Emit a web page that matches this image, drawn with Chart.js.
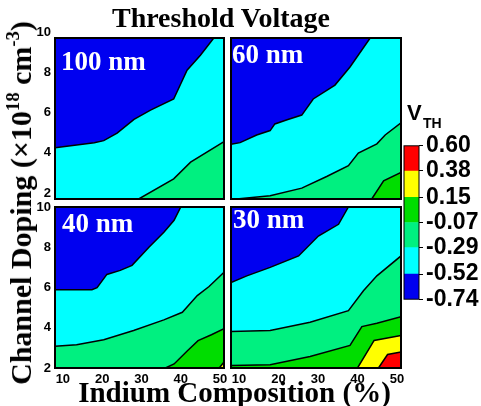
<!DOCTYPE html>
<html>
<head>
<meta charset="utf-8">
<script src="https://cdn.jsdelivr.net/npm/chart.js@4.4.1/dist/chart.umd.min.js"></script>
<style>
  body { margin: 0; width: 481px; height: 406px; background: #fff; overflow: hidden; position: relative; }
  canvas { position: absolute; }
  .t { position: absolute; white-space: nowrap; font-family: 'Liberation Serif', 'Times New Roman', serif; font-weight: bold; color: #000; }
  .lbl { font-size: 27px; line-height: 30px; color: #fff; }
  .s { position: absolute; white-space: nowrap; font-family: 'Liberation Sans', Arial, sans-serif; font-weight: bold; color: #000; }
  sup { font-size: 0.62em; line-height: 0; vertical-align: 0.65em; }
</style>
</head>
<body>
<canvas id="p100" width="211" height="185" style="left:25px;top:26px"></canvas>
<canvas id="p60" width="194" height="185" style="left:219px;top:26px"></canvas>
<canvas id="p40" width="211" height="195" style="left:25px;top:195px"></canvas>
<canvas id="p30" width="194" height="195" style="left:219px;top:195px"></canvas>
<canvas id="cbar" width="89" height="187" style="left:392px;top:129px"></canvas>

<div class="t" style="left:0;top:3px;width:442px;text-align:center;font-size:28px;line-height:30px">Threshold Voltage</div>
<div class="t" style="left:21px;top:203px;font-size:30px;line-height:32px;transform:translate(-50%,-50%) rotate(-90deg)">Channel Doping (×10<sup>18</sup> cm<sup>-3</sup>)</div>
<div class="t" style="left:0;top:376px;width:469px;text-align:center;font-size:29px;line-height:32px">Indium Composition (%)</div>

<div class="t lbl" style="left:61px;top:46px">100 nm</div>
<div class="t lbl" style="left:232px;top:39px">60 nm</div>
<div class="t lbl" style="left:62px;top:208px">40 nm</div>
<div class="t lbl" style="left:233px;top:204px">30 nm</div>

<div class="s" style="left:407px;top:100px;font-size:22px">V</div>
<div class="s" style="left:423px;top:115px;font-size:14px">TH</div>

<script>
// ejes
const xMin = 8, xMax = 51;
const xTicks = [10, 20, 30, 40, 50];
const yTicks = [2, 4, 6, 8, 10];

// niveles de la barra de color (V)
const levels = [-0.74, -0.52, -0.29, -0.07, 0.15, 0.38, 0.60];

// curvas de nivel [In %, dopaje], de arriba hacia abajo
const c100_a = [[8, 4.55], [18, 4.8], [20.4, 4.9], [23.8, 5.27], [28.1, 5.96], [32.3, 6.42], [38.2, 6.97], [41.6, 8.4], [45, 9.14], [48.4, 10], [51, 10]];
const c100_b = [[29.3, 2], [38.2, 3.0], [42.5, 3.83], [51, 4.85]];

const c60_a = [[8, 4.72], [10.3, 4.8], [14.5, 5.18], [17.9, 5.4], [19.1, 5.73], [22.2, 5.94], [25.9, 6.17], [28.8, 6.97], [34.3, 7.66], [38.1, 8.56], [43.2, 10], [51, 10]];
const c60_b = [[9.4, 2], [17.9, 2.16], [25.9, 2.54], [32.2, 3.12], [37.7, 3.66], [40.2, 4.28], [44.9, 4.74], [47, 5.18], [51, 5.79]];
const c60_c = [[43.6, 2], [46.6, 2.9], [51, 3.32]];

const c40_a = [[8, 5.89], [17.4, 5.89], [18.7, 5.99], [21.2, 6.65], [24.6, 6.85], [27.6, 7.1], [31.9, 8.0], [35.7, 8.75], [38.3, 9.34], [40, 10], [51, 10]];
const c40_b = [[8, 3.08], [13.5, 3.15], [20.4, 3.4], [28, 3.86], [35.7, 4.39], [40.4, 4.77], [44.2, 5.6], [47.2, 6.05], [51, 6.76]];
const c40_c = [[36.1, 2], [38.3, 2.2], [41.7, 2.86], [44.4, 3.36], [47.8, 3.65], [51, 3.95]];
const c40_d = [[49.8, 2], [51, 2.3]];

const c30_a = [[8, 6.25], [12, 6.58], [17.9, 7.0], [25.1, 7.57], [30.1, 8.56], [35.2, 9.14], [37.7, 10], [51, 10]];
const c30_b = [[8, 3.81], [17.9, 3.86], [28, 4.27], [37.7, 4.85], [41.5, 5.84], [44.9, 6.58], [51, 7.57]];
const c30_c = [[8, 2.13], [17.9, 2.16], [28, 2.57], [38.1, 3.12], [41.1, 4.06], [44.9, 4.22], [51, 4.55]];
const c30_d = [[40, 2], [44.2, 3.37], [51, 3.61]];
const c30_e = [[45.3, 2], [47.6, 2.67], [51, 2.79]];

// colores (de -0.74 hacia 0.60)
const colors = ['#0000f0', '#00ffff', '#00f080', '#00dd00', '#ffff00', '#ff0000'];

const tickFont = { family: "'Liberation Sans', Arial, sans-serif", weight: 'bold', size: 13 };

// marco negro alrededor del área
const framePlugin = {
  id: 'frame',
  afterDatasetsDraw(chart, args, opts) {
    const { ctx, chartArea: a } = chart;
    ctx.save();
    ctx.strokeStyle = '#000';
    ctx.lineWidth = opts.width || 2;
    ctx.strokeRect(a.left, a.top, a.right - a.left, a.bottom - a.top);
    ctx.restore();
  }
};

function panel(id, lines, cfg) {
  // cada curva rellena hacia abajo con el color de la región que queda debajo
  const datasets = lines.map((pts, i) => ({
    data: pts.map(p => ({ x: p[0], y: p[1] })),
    fill: 'start',
    backgroundColor: colors[i + 1],
    borderColor: '#000',
    borderWidth: 1.5,
    pointRadius: 0,
    tension: 0
  })).reverse();
  // fondo azul
  datasets.push({
    data: [{ x: xMin, y: 10 }, { x: xMax, y: 10 }],
    fill: 'start',
    backgroundColor: colors[0],
    borderWidth: 0,
    pointRadius: 0
  });

  new Chart(document.getElementById(id), {
    type: 'line',
    data: { datasets },
    plugins: [framePlugin],
    options: {
      responsive: false,
      animation: false,
      layout: { padding: cfg.padding },
      plugins: {
        legend: { display: false },
        tooltip: { enabled: false },
        filler: { drawTime: 'beforeDatasetsDraw' },
        frame: { width: 2 }
      },
      scales: {
        x: {
          type: 'linear', min: xMin, max: xMax, display: cfg.showX,
          afterBuildTicks: s => { s.ticks = xTicks.map(v => ({ value: v })); },
          afterFit: s => { if (cfg.showX) s.height = 22; },
          grid: { display: false, drawTicks: false },
          border: { display: false },
          ticks: { font: tickFont, color: '#000', padding: 4, maxRotation: 0, autoSkip: false }
        },
        y: {
          type: 'linear', min: 2, max: 10, display: cfg.showY,
          afterBuildTicks: s => { s.ticks = yTicks.map(v => ({ value: v })); },
          afterFit: s => { if (cfg.showY) s.width = 30; },
          grid: { display: false, drawTicks: false },
          border: { display: false },
          ticks: { font: tickFont, color: '#000', padding: 4, autoSkip: false, labelOffset: cfg.yOffset || 0 }
        }
      }
    }
  });
}

panel('p100', [c100_a, c100_b], { showX: false, showY: true, yOffset: -6, padding: { top: 12, right: 12, bottom: 12, left: 0 } });
panel('p60', [c60_a, c60_b, c60_c], { showX: false, showY: false, padding: 12 });
panel('p40', [c40_a, c40_b, c40_c, c40_d], { showX: true, showY: true, padding: { top: 12, right: 12, bottom: 0, left: 0 } });
panel('p30', [c30_a, c30_b, c30_c, c30_d, c30_e], { showX: true, showY: false, padding: { top: 12, right: 12, bottom: 0, left: 12 } });

// barra de color
new Chart(document.getElementById('cbar'), {
  type: 'bar',
  data: {
    labels: [''],
    datasets: colors.map((c, i) => ({
      data: [[levels[i], levels[i + 1]]],
      backgroundColor: c,
      borderWidth: 0,
      barPercentage: 1,
      categoryPercentage: 1
    }))
  },
  plugins: [framePlugin],
  options: {
    responsive: false,
    animation: false,
    layout: { padding: { top: 14, bottom: 14, left: 12, right: 0 } },
    plugins: { legend: { display: false }, tooltip: { enabled: false }, frame: { width: 1 } },
    scales: {
      x: { stacked: true, display: false },
      y: {
        position: 'right', min: levels[0], max: levels[levels.length - 1],
        afterBuildTicks: s => { s.ticks = levels.map(v => ({ value: v })); },
        afterFit: s => { s.width = 62; },
        grid: { drawOnChartArea: false, drawTicks: true, tickLength: 4, color: '#000' },
        border: { display: false },
        ticks: {
          font: { family: "'Liberation Sans', Arial, sans-serif", weight: 'bold', size: 23 },
          color: '#000', padding: 3, autoSkip: false,
          callback: v => v.toFixed(2)
        }
      }
    }
  }
});
</script>
</body>
</html>
